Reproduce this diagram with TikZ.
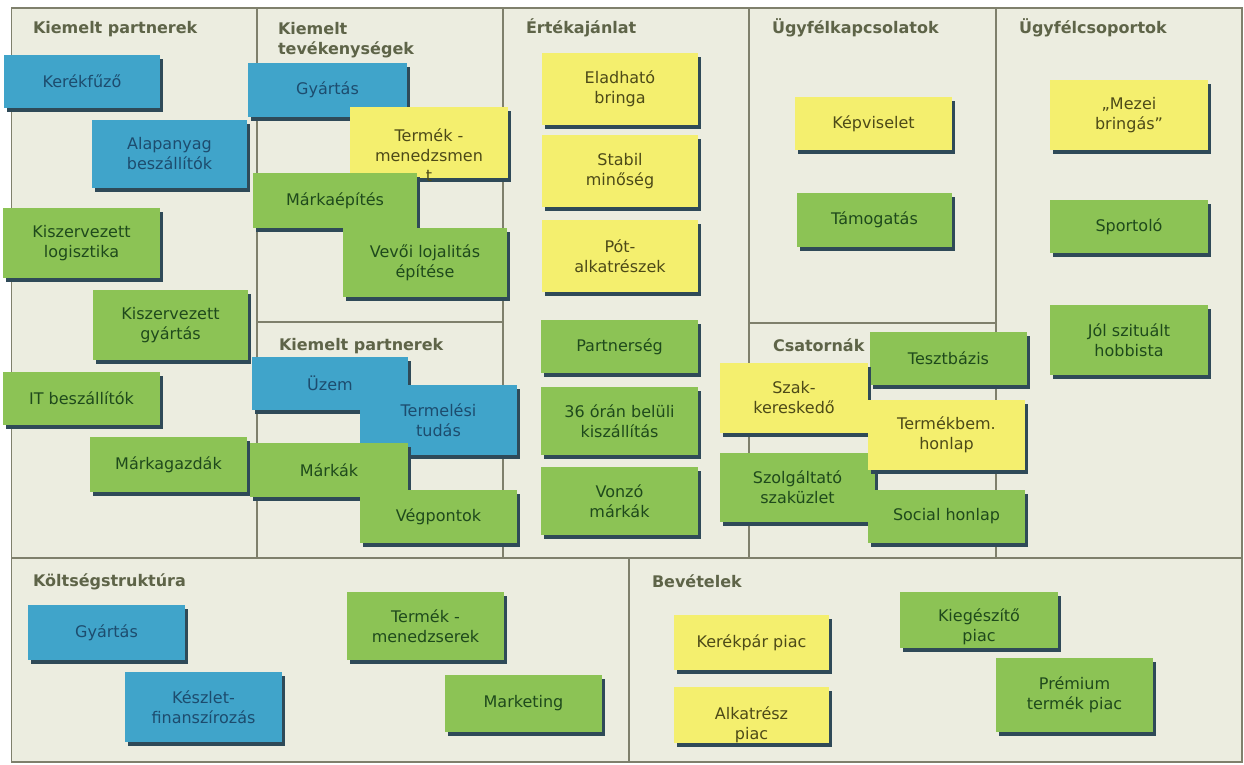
\documentclass[tikz,border=0pt]{standalone}
\usepackage{fontspec}
\setmainfont{DejaVu Sans}
\usetikzlibrary{shadows}
\definecolor{bgcol}{HTML}{ECEDE0}
\definecolor{gridcol}{HTML}{7F806C}
\definecolor{cblue}{HTML}{40A4CA}
\definecolor{cgreen}{HTML}{8CC355}
\definecolor{cyellow}{HTML}{F4EF6E}
\definecolor{shcol}{HTML}{2F4A58}
\definecolor{tblue}{HTML}{1D4C6E}
\definecolor{tgreen}{HTML}{1F4A1C}
\definecolor{tyellow}{HTML}{4D4A18}
\definecolor{ttlcol}{HTML}{5E6448}
\newcommand\cardfnt{\fontsize{16}{20}\selectfont}
\newcommand\titlefnt{\fontsize{16}{20}\selectfont\bfseries}
\tikzset{
 card/.style={inner sep=0pt, outer sep=0pt, align=center, font=\cardfnt,
   drop shadow={shadow xshift=3pt, shadow yshift=-4pt, fill=shcol, opacity=1}},
 blu/.style={card, fill=cblue, text=tblue},
 grn/.style={card, fill=cgreen, text=tgreen},
 yel/.style={card, fill=cyellow, text=tyellow},
 ltxt/.style={inner sep=0pt, outer sep=0pt, align=center, font=\cardfnt},
 ttl/.style={inner sep=0pt, outer sep=0pt, anchor=base west, font=\titlefnt, text=ttlcol, align=left},
 gridline/.style={draw=gridcol, line width=1.4pt},
}
\begin{document}
\begin{tikzpicture}[x=1pt,y=-1pt]
\useasboundingbox (0,0) rectangle (1244,765);
\fill[white] (0,0) rectangle (1244,765);
% frame and grid
\coordinate (fNW) at (11.5,8);
\coordinate (fSE) at (1242,762);
\filldraw[gridline, fill=bgcol] (fNW) rectangle (fSE);
\coordinate (v1t) at (257,8);   \coordinate (v1b) at (257,558);
\coordinate (v2t) at (503,8);   \coordinate (v2b) at (503,558);
\coordinate (v3t) at (749,8);   \coordinate (v3b) at (749,558);
\coordinate (v4t) at (996,8);   \coordinate (v4b) at (996,558);
\coordinate (hL) at (11.5,558); \coordinate (hR) at (1242,558);
\coordinate (k1) at (257,322);  \coordinate (k2) at (503,322);
\coordinate (c1) at (749,323);  \coordinate (c2) at (996,323);
\coordinate (bt) at (629,558);  \coordinate (bb) at (629,762);
\draw[gridline] (v1t) -- (v1b);
\draw[gridline] (v2t) -- (v2b);
\draw[gridline] (v3t) -- (v3b);
\draw[gridline] (v4t) -- (v4b);
\draw[gridline] (hL) -- (hR);
\draw[gridline] (k1) -- (k2);
\draw[gridline] (c1) -- (c2);
\draw[gridline] (bt) -- (bb);
% titles
\node[ttl] (tKP) at (33,33.5) {Kiemelt partnerek};
\node[ttl, anchor=north west] (tKT) at (278,22) {Kiemelt\\tevékenységek};
\node[ttl] (tEA) at (526,33.5) {Értékajánlat};
\node[ttl] (tUK) at (772,33.5) {Ügyfélkapcsolatok};
\node[ttl] (tUC) at (1019,33.5) {Ügyfélcsoportok};
\node[ttl] (tKP2) at (279,350.5) {Kiemelt partnerek};
\node[ttl] (tCS) at (773,351) {Csatornák};
\node[ttl] (tKS) at (33,586.5) {Költségstruktúra};
\node[ttl] (tBV) at (652,587) {Bevételek};
% Kiemelt partnerek
\node[blu, minimum width=156pt, minimum height=53pt] (kerek) at (82,81.5) {Kerékfűző};
\node[blu, minimum width=155pt, minimum height=68pt] (alap) at (169.5,154) {Alapanyag\\beszállítók};
\node[grn, minimum width=157pt, minimum height=70pt] (kiszlog) at (81.5,243) {Kiszervezett\\logisztika};
\node[grn, minimum width=155pt, minimum height=70pt] (kiszgy) at (170.5,325) {Kiszervezett\\gyártás};
\node[grn, minimum width=157pt, minimum height=53pt] (itb) at (81.5,398.5) {IT beszállítók};
\node[grn, minimum width=157pt, minimum height=55pt] (markg) at (168.5,464.5) {Márkagazdák};
% Kiemelt tevekenysegek
\node[blu, minimum width=159pt, minimum height=54pt] (gyart) at (327.5,90) {Gyártás};
\node[yel, minimum width=158pt, minimum height=71pt, label={[ltxt, text=tyellow, yshift=-12.5pt]center:Termék -\\menedzsmen\\t}] (tmen) at (429,142.5) {};
\node[grn, minimum width=164pt, minimum height=55pt] (marke) at (335,200.5) {Márkaépítés};
\node[grn, minimum width=164pt, minimum height=69pt] (vevo) at (425,262.5) {Vevői lojalitás\\építése};
% Kiemelt partnerek 2
\node[blu, minimum width=156pt, minimum height=53pt] (uzem) at (330,383.5) {Üzem};
\node[blu, minimum width=157pt, minimum height=70pt] (termt) at (438.5,420) {Termelési\\tudás};
\node[grn, minimum width=158pt, minimum height=54pt] (markak) at (329,470) {Márkák};
\node[grn, minimum width=157pt, minimum height=53pt] (vegp) at (438.5,516.5) {Végpontok};
% Ertekajanlat
\node[yel, minimum width=156pt, minimum height=72pt] (elad) at (620,89) {Eladható\\bringa};
\node[yel, minimum width=156pt, minimum height=72pt] (stab) at (620,171) {Stabil\\minőség};
\node[yel, minimum width=156pt, minimum height=72pt] (pot) at (620,256) {Pót-\\alkatrészek};
\node[grn, minimum width=157pt, minimum height=53pt] (partn) at (619.5,346.5) {Partnerség};
\node[grn, minimum width=157pt, minimum height=68pt] (ora) at (619.5,421) {36 órán belüli\\kiszállítás};
\node[grn, minimum width=157pt, minimum height=68pt] (vonzo) at (619.5,501) {Vonzó\\márkák};
% Ugyfelkapcsolatok
\node[yel, minimum width=157pt, minimum height=53pt] (kepv) at (873.5,123.5) {Képviselet};
\node[grn, minimum width=155pt, minimum height=54pt] (tamog) at (874.5,220) {Támogatás};
% Csatornak
\node[grn, minimum width=157pt, minimum height=53pt] (teszt) at (948.5,358.5) {Tesztbázis};
\node[yel, minimum width=148pt, minimum height=70pt] (szak) at (794,398) {Szak-\\kereskedő};
\node[grn, minimum width=155pt, minimum height=69pt] (szolg) at (797.5,487.5) {Szolgáltató\\szaküzlet};
\node[yel, minimum width=157pt, minimum height=70pt] (tbem) at (946.5,435) {Termékbem.\\honlap};
\node[grn, minimum width=157pt, minimum height=53pt] (social) at (946.5,516.5) {Social honlap};
% Ugyfelcsoportok
\node[yel, minimum width=158pt, minimum height=70pt] (mezei) at (1129,115) {„Mezei\\bringás"};
\node[grn, minimum width=158pt, minimum height=53pt] (sport) at (1129,226.5) {Sportoló};
\node[grn, minimum width=158pt, minimum height=70pt] (hobbi) at (1129,340) {Jól szituált\\hobbista};
% Koltsegstruktura
\node[blu, minimum width=157pt, minimum height=55pt] (gyart2) at (106.5,632.5) {Gyártás};
\node[blu, minimum width=157pt, minimum height=70pt] (keszl) at (203.5,707) {Készlet-\\finanszírozás};
\node[grn, minimum width=157pt, minimum height=68pt] (tmen2) at (425.5,626) {Termék -\\menedzserek};
\node[grn, minimum width=157pt, minimum height=57pt] (mark) at (523.5,703.5) {Marketing};
% Bevetelek
\node[yel, minimum width=155pt, minimum height=55pt] (kpiac) at (751.5,642.5) {Kerékpár piac};
\node[yel, minimum width=155pt, minimum height=56pt, label={[ltxt, text=tyellow, yshift=-10pt]center:Alkatrész\\piac}] (apiac) at (751.5,715) {};
\node[grn, minimum width=158pt, minimum height=56pt, label={[ltxt, text=tgreen, yshift=-7pt]center:Kiegészítő\\piac}] (kgpiac) at (979,620) {};
\node[grn, minimum width=157pt, minimum height=74pt] (prem) at (1074.5,695) {Prémium\\termék piac};
\end{tikzpicture}
\end{document}
